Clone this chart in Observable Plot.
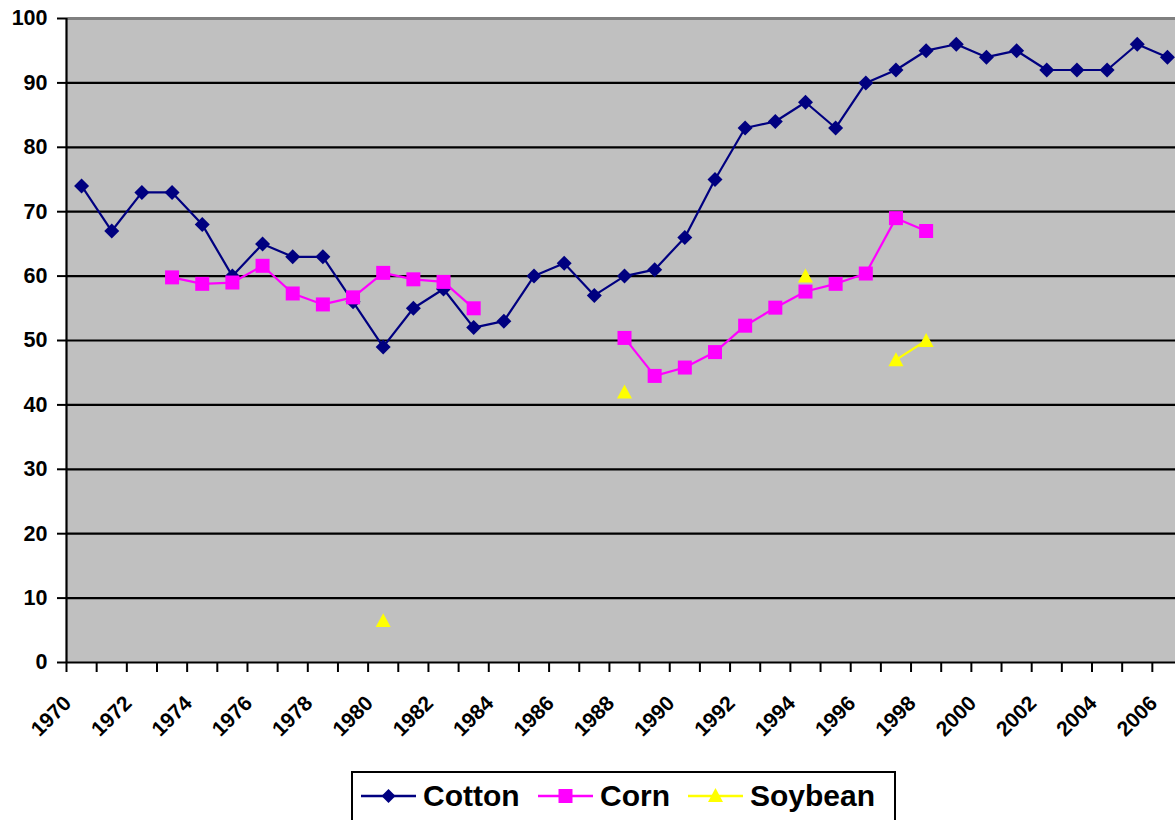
<!DOCTYPE html>
<html>
<head>
<meta charset="utf-8">
<script src="https://cdn.jsdelivr.net/npm/d3@7"></script>
<script src="https://cdn.jsdelivr.net/npm/@observablehq/plot@0.6"></script>
<style>
  html, body { margin: 0; padding: 0; background: #fff; overflow: hidden; }
  body { width: 1175px; height: 820px; position: relative; font-family: "Liberation Sans", Arial, sans-serif; }
  #legend { position: absolute; left: 351px; top: 771px; width: 541px; height: 70px; border: 2.5px solid #000; background: #fff; }
  #legend .item { position: absolute; top: 0; height: 60px; }
  #legend span { position: absolute; top: 6px; font-size: 30px; font-weight: bold; color: #000; white-space: nowrap; }
</style>
</head>
<body>
<div id="chart"></div>
<div id="legend"></div>
<script>
const years = d3.range(1970, 2007);
const cotton = [74, 67, 73, 73, 68, 60, 65, 63, 63, 56, 49, 55, 58, 52, 53, 60, 62, 57, 60, 61,
  66, 75, 83, 84, 87, 83, 90, 92, 95, 96, 94, 95, 92, 92, 92, 96, 94];
const corn = [null, null, null, 59.8, 58.8, 59.0, 61.6, 57.3, 55.6, 56.7, 60.5, 59.5, 59.1, 55.0,
  null, null, null, null, 50.4, 44.5, 45.8, 48.2, 52.3, 55.1, 57.6, 58.8, 60.4, 69, 67,
  null, null, null, null, null, null, null, null];
const soybean = [null, null, null, null, null, null, null, null, null, null, 6.5, null, null, null,
  null, null, null, null, 42, null, null, null, null, null, 60, null, null, 47, 50,
  null, null, null, null, null, null, null, null];
const yTicks = d3.range(0, 101, 10);
const labelYears = years.filter(y => y % 2 === 0);
const seriesNames = ["Cotton", "Corn", "Soybean"];
const seriesColors = ["#000080", "#FF00FF", "#FFFF00"];

const rows = (vals) => years.map((y, i) => ({year: y, value: vals[i]}));
const cottonRows = rows(cotton), cornRows = rows(corn), soyRows = rows(soybean);

const diamond = {draw(ctx, size) { const r = Math.sqrt(size / Math.PI); ctx.moveTo(0, -r); ctx.lineTo(r, 0); ctx.lineTo(0, r); ctx.lineTo(-r, 0); ctx.closePath(); }};
const square = {draw(ctx, size) { const r = Math.sqrt(size / Math.PI); ctx.rect(-r, -r, 2 * r, 2 * r); }};
const triangle = {draw(ctx, size) { const r = Math.sqrt(size / Math.PI); ctx.moveTo(0, -r); ctx.lineTo(r, r * 0.85); ctx.lineTo(-r, r * 0.85); ctx.closePath(); }};

const font = "Liberation Sans, Arial, sans-serif";
const plot = Plot.plot({
  width: 1175,
  height: 770,
  marginLeft: 66,
  marginRight: -7,
  marginTop: 18,
  marginBottom: 108,
  style: {fontFamily: font, background: "transparent", overflow: "visible"},
  x: {domain: [1969.5, 2006.5], axis: null, label: null},
  y: {domain: [0, 100], axis: null, label: null},
  marks: [
    Plot.frame({fill: "#C0C0C0", stroke: null}),
    Plot.ruleY(yTicks.filter(d => d > 0 && d < 100), {stroke: "#000", strokeWidth: 2.2}),
    Plot.ruleY([100], {stroke: "#808080", strokeWidth: 3}),
    Plot.ruleY([0], {stroke: "#000", strokeWidth: 2.2}),
    Plot.ruleX([1969.5], {stroke: "#000", strokeWidth: 2.2}),
    Plot.axisY(yTicks, {label: null, tickSize: 9, tickPadding: 10, fontSize: 21.5, fontWeight: "bold", stroke: "#000", strokeWidth: 2, fill: "#000", tickFormat: d => d}),
    Plot.axisX(d3.range(1969.5, 2006.6, 1), {label: null, tickSize: 10, tickFormat: () => "", stroke: "#000", strokeWidth: 2}),
    Plot.text(labelYears, {x: d => d, frameAnchor: "bottom", text: d => String(d), rotate: -45, textAnchor: "end", lineAnchor: "bottom", dx: -9, dy: 42, fontSize: 21, fontWeight: "bold", fill: "#000"}),
    Plot.line(cottonRows, {x: "year", y: "value", stroke: seriesColors[0], strokeWidth: 2.2}),
    Plot.dot(cottonRows.filter(d => d.value != null), {x: "year", y: "value", symbol: diamond, r: 7.5, fill: seriesColors[0], stroke: null}),
    Plot.line(cornRows, {x: "year", y: "value", stroke: seriesColors[1], strokeWidth: 2.2}),
    Plot.dot(cornRows.filter(d => d.value != null), {x: "year", y: "value", symbol: square, r: 7, fill: seriesColors[1], stroke: null}),
    Plot.line(soyRows, {x: "year", y: "value", stroke: seriesColors[2], strokeWidth: 2.2}),
    Plot.dot(soyRows.filter(d => d.value != null), {x: "year", y: "value", symbol: triangle, r: 7.5, fill: seriesColors[2], stroke: null})
  ]
});
document.getElementById("chart").appendChild(plot);

// legend
const legend = document.getElementById("legend");
const lx = [8, 185, 335];
const tx = [70, 247, 397];
const symPaths = [
  "M27.5,16 L34.5,23 L27.5,30 L20.5,23 Z",
  "M20.5,16 h14 v14 h-14 Z",
  "M27.5,15 L35,29 L20,29 Z"
];
seriesNames.forEach((name, i) => {
  const item = document.createElement("div");
  item.className = "item";
  item.style.left = lx[i] + "px";
  item.innerHTML = `<svg width="56" height="40" style="position:absolute;top:0;left:0">
    <line x1="0" x2="55" y1="23" y2="23" stroke="${seriesColors[i]}" stroke-width="2.5"/>
    <path d="${symPaths[i]}" fill="${seriesColors[i]}"/></svg>`;
  legend.appendChild(item);
  const s = document.createElement("span");
  s.textContent = name;
  s.style.left = tx[i] + "px";
  legend.appendChild(s);
});
</script>
</body>
</html>
